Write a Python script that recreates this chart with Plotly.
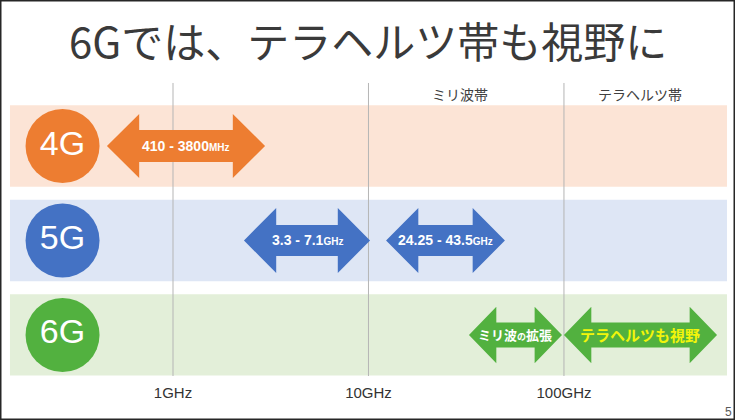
import plotly.graph_objects as go

# 周波数軸 (log10 GHz)
freq_ticks = [0, 1, 2]
freq_labels = ["1GHz", "10GHz", "100GHz"]

# 世代 (行)
generations = ["4G", "5G", "6G"]
gen_rows = [0, 1, 2]

# 帯域名
region_labels = ["ミリ波帯", "テラヘルツ帯"]
region_x = [1.47, 2.39]

# 矢印 (左端・右端 log10 GHz)
arrow_rows = [0, 1, 1, 2, 2]
arrow_left = [-0.338, 0.363, 1.090, 1.514, 2.000]
arrow_right = [0.471, 1.008, 1.698, 1.990, 2.783]
arrow_texts = [
    "410 - 3800<span style='font-size:10px'>MHz</span>",
    "3.3 - 7.1<span style='font-size:10px'>GHz</span>",
    "24.25 - 43.5<span style='font-size:10px'>GHz</span>",
    "ミリ波<span style='font-size:9px'>の</span>拡張",
    "テラヘルツも視野",
]

# スタイル
gen_colors = ["#ED7D31", "#4472C4", "#52B13F"]
band_colors = ["#FCE4D6", "#DEE6F5", "#E3EFD9"]
text_colors = ["white", "white", "white", "white", "#F2F50A"]
text_sizes = [14, 14, 14, 13, 15]
# 行ごとの矢印サイズ: 頭の長さ, 頭の半高, 軸の半高
head_len = [0.165, 0.165, 0.14]
head_half = [0.339, 0.344, 0.30]
shaft_half = [0.169, 0.164, 0.132]

font_lat = "Liberation Sans, Arial, Noto Sans CJK JP"
font_jp = "Noto Sans CJK JP, Liberation Sans"

x_range = [-0.885, 2.875]
y_range = [2.434, -1.545]
band_x0, band_x1 = -0.834, 2.834
band_half = 0.43
line_top = -0.667

fig = go.Figure()

# 背景の帯
for r, c in zip(gen_rows, band_colors):
    fig.add_shape(type="rect", xref="x", yref="y", x0=band_x0, x1=band_x1,
                  y0=r - band_half, y1=r + band_half,
                  fillcolor=c, line_width=0, layer="below")

# 縦線
for t in freq_ticks:
    fig.add_trace(go.Scatter(x=[t, t], y=[line_top, y_range[0]], mode="lines",
                             line=dict(color="#B5B5B5", width=1),
                             hoverinfo="skip", showlegend=False))

# 両矢印
for r, xl, xr in zip(arrow_rows, arrow_left, arrow_right):
    h, H, S = head_len[r], head_half[r], shaft_half[r]
    xs = [xl, xl + h, xl + h, xr - h, xr - h, xr, xr - h, xr - h, xl + h, xl + h, xl]
    ys = [r, r - H, r - S, r - S, r - H, r, r + H, r + S, r + S, r + H, r]
    fig.add_trace(go.Scatter(x=xs, y=ys, mode="lines", fill="toself",
                             fillcolor=gen_colors[r], line=dict(width=0),
                             hoverinfo="skip", showlegend=False))

for r, xl, xr, txt, col, sz in zip(arrow_rows, arrow_left, arrow_right,
                                   arrow_texts, text_colors, text_sizes):
    fig.add_annotation(x=(xl + xr) / 2, y=r, xref="x", yref="y", text=txt,
                       showarrow=False,
                       font=dict(family=font_lat if r < 2 else font_jp,
                                 size=sz, color=col, weight="bold"))

# 世代の丸
fig.add_trace(go.Scatter(x=[-0.565] * len(generations), y=gen_rows,
                         mode="markers+text", text=generations,
                         textposition="middle center",
                         marker=dict(size=74, color=gen_colors, line=dict(width=0)),
                         textfont=dict(family=font_lat, size=34, color="white"),
                         hoverinfo="skip", showlegend=False))

# 帯域名
for lbl, x in zip(region_labels, region_x):
    fig.add_annotation(x=x, y=-0.55, xref="x", yref="y", text=lbl,
                       showarrow=False,
                       font=dict(family=font_jp, size=14, color="#404040"))

# タイトル
fig.add_annotation(x=0.5, y=0.894, xref="paper", yref="paper",
                   text="6Gでは、テラヘルツ帯も視野に", showarrow=False,
                   yanchor="middle",
                   font=dict(family=font_jp, size=42, color="#3A3A3A"))

# ページ番号
fig.add_annotation(x=0.998, y=-0.095, xref="paper", yref="paper", text="5",
                   showarrow=False, xanchor="right", yanchor="middle",
                   font=dict(family=font_lat, size=12, color="#595959"))

# 枠
fig.add_shape(type="rect", xref="paper", yref="paper", x0=0, x1=1,
              y0=-44 / 376, y1=1, line=dict(color="#262626", width=3))

fig.update_layout(
    width=735, height=420,
    margin=dict(l=0, r=0, t=0, b=44),
    paper_bgcolor="white", plot_bgcolor="white",
    xaxis=dict(range=x_range, tickvals=freq_ticks, ticktext=freq_labels,
               showgrid=False, zeroline=False, showline=False, ticks="",
               ticklabelstandoff=6,
               tickfont=dict(family=font_lat, size=15, color="#333333"),
               fixedrange=True),
    yaxis=dict(range=y_range, visible=False, fixedrange=True),
    showlegend=False,
)

# ページの余白をなくす
fig.write_html("out.html", config={"displayModeBar": False},
               post_script="document.body.style.margin='0px';")
